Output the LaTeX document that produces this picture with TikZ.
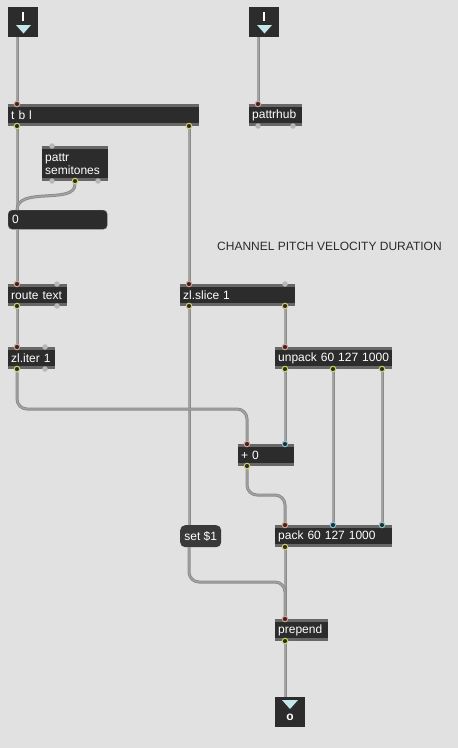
\documentclass[tikz,border=0pt]{standalone}
\usepackage{fontspec}
\setmainfont{Liberation Sans}
\usetikzlibrary{positioning}

\definecolor{patchbg}{HTML}{E1E1E1}
\definecolor{boxdark}{HTML}{2C2C2C}
\definecolor{boxband}{HTML}{676767}
\definecolor{msgdark}{HTML}{393939}
\definecolor{cablegray}{HTML}{A4A4A4}
\definecolor{cableedge}{HTML}{8A8A8A}
\definecolor{hotring}{HTML}{E39A8C}
\definecolor{coldring}{HTML}{7FC6D6}
\definecolor{outring}{HTML}{CFCF66}
\definecolor{idleport}{HTML}{B8B8B8}
\definecolor{arrowtri}{HTML}{C4E6EA}
\definecolor{commenttext}{HTML}{2A2A2A}

\begin{document}
\begin{tikzpicture}[x=1pt,y=-1pt,font=\fontsize{12}{13}\selectfont,
  obj box/.style={fill=boxdark,text=white,anchor=north west,inner xsep=3pt,inner ysep=0pt,
    minimum height=22pt,align=left,
    path picture={
      \fill[boxband] (path picture bounding box.north west) rectangle ([yshift=-3pt]path picture bounding box.north east);
      \fill[boxband] (path picture bounding box.south west) rectangle ([yshift=3pt]path picture bounding box.south east);}},
  num box/.style={fill=boxdark,draw=boxband!70!boxdark,rounded corners=4pt,text=white,anchor=north west,
    inner xsep=4pt,inner ysep=0pt,minimum height=19pt,align=left},
  msg box/.style={fill=msgdark,rounded corners=5pt,text=white,anchor=north west,inner xsep=2pt,
    inner ysep=0pt,minimum height=22pt,minimum width=41pt},
  io box/.style={fill=boxdark,anchor=north west,minimum size=30pt,inner sep=0pt},
  cable/.style={draw=cableedge,line width=0.9pt,double=cablegray,double distance=1.2pt},
  hot port/.style={circle,inner sep=0pt,minimum size=5.5pt,draw=hotring,line width=1pt,fill=boxdark},
  cold port/.style={hot port,draw=coldring},
  out port/.style={hot port,draw=outring},
  idle port/.style={circle,inner sep=0pt,minimum size=5.5pt,fill=idleport}]

  % patcher background
  \fill[patchbg] (0,0) rectangle (458,748);

  % inlets
  \node[io box] (inA) at (8,7) {};
  \fill[white] (22,12) rectangle (24,21);
  \fill[arrowtri] (16,25) -- (31,25) -- (23.5,33.5) -- cycle;
  \coordinate (inA-out) at (17,37);

  \node[io box] (inB) at (249,7) {};
  \fill[white] (263,12) rectangle (265,21);
  \fill[arrowtri] (257,25) -- (272,25) -- (264.5,33.5) -- cycle;
  \coordinate (inB-out) at (258,37);

  % objects
  \node[obj box,text width=185pt] (tbl) at (8,104) {t b l};
  \node[obj box,text width=47pt] (hub) at (249,104) {pattrhub};
  \node[obj box,text width=60pt,minimum height=35pt] (pattr) at (42,146) {pattr\\semitones};
  \node[num box,text width=91pt] (num) at (8,210) {0};
  \node[obj box,text width=53pt] (route) at (8,284) {route text};
  \node[obj box,text width=109pt] (slice) at (180,284) {zl.slice 1};
  \node[obj box,text width=41pt] (iter) at (8,347) {zl.iter 1};
  \node[obj box,text width=111pt] (unpack) at (275,347) {unpack 60 127 1000};
  \node[obj box,text width=50pt] (plus) at (238,444) {+ 0};
  \node[msg box] (msg) at (180,525) {set \$1};
  \node[obj box,text width=111pt] (pack) at (275,525) {pack 60 127 1000};
  \node[obj box,text width=47pt] (prepend) at (275,619) {prepend};

  \node[anchor=west,text=commenttext,inner sep=0pt] (comment) at (217,246) {CHANNEL PITCH VELOCITY DURATION};

  % outlet
  \node[io box] (outA) at (275,697) {};
  \fill[arrowtri] (282,700) -- (298,700) -- (290,709) -- cycle;
  \node[text=white,inner sep=0pt,font=\fontsize{12}{13}\selectfont\bfseries] (outA-o) at (290,717) {o};
  \coordinate (outA-in) at (285,697);

  % ports
  \node[hot port] (tbl-in1) at (17,104) {};
  \node[out port] (tbl-out1) at (17,126) {};
  \node[out port] (tbl-out2) at (189,126) {};
  \node[hot port] (hub-in1) at (258,104) {};
  \node[idle port] (hub-out1) at (258,126) {};
  \node[idle port] (hub-out2) at (293,126) {};
  \node[idle port] (pattr-in1) at (52,146) {};
  \node[idle port] (pattr-out1) at (52,181) {};
  \node[out port] (pattr-out2) at (75,181) {};
  \node[idle port] (pattr-out3) at (98,181) {};
  \coordinate (num-in) at (17,210);
  \coordinate (num-out) at (17,229);
  \node[hot port] (route-in1) at (17,284) {};
  \node[idle port] (route-in2) at (57,284) {};
  \node[out port] (route-out1) at (17,306) {};
  \node[idle port] (route-out2) at (57,306) {};
  \node[hot port] (slice-in1) at (189,284) {};
  \node[idle port] (slice-in2) at (285,284) {};
  \node[out port] (slice-out1) at (189,306) {};
  \node[out port] (slice-out2) at (285,306) {};
  \node[hot port] (iter-in1) at (17,347) {};
  \node[idle port] (iter-in2) at (45,347) {};
  \node[out port] (iter-out1) at (17,369) {};
  \node[idle port] (iter-out2) at (45,369) {};
  \node[hot port] (unpack-in1) at (285,347) {};
  \node[out port] (unpack-out1) at (285,369) {};
  \node[out port] (unpack-out2) at (333,369) {};
  \node[out port] (unpack-out3) at (382,369) {};
  \node[hot port] (plus-in1) at (247,444) {};
  \node[cold port] (plus-in2) at (285,444) {};
  \node[out port] (plus-out1) at (247,466) {};
  \coordinate (msg-in) at (189,525);
  \coordinate (msg-out) at (189,547);
  \node[hot port] (pack-in1) at (285,525) {};
  \node[cold port] (pack-in2) at (333,525) {};
  \node[cold port] (pack-in3) at (382,525) {};
  \node[out port] (pack-out1) at (285,547) {};
  \node[hot port] (prepend-in1) at (285,619) {};
  \node[out port] (prepend-out1) at (285,641) {};

  % patch cords
  \draw[cable]
    (inA-out) -- (tbl-in1)
    (inB-out) -- (hub-in1)
    (tbl-out1) -- (num-in)
    (tbl-out2) -- (slice-in1)
    (num-out) -- (route-in1)
    (route-out1) -- (iter-in1)
    (slice-out2) -- (unpack-in1)
    (slice-out1) -- (msg-in)
    (unpack-out1) -- (plus-in2)
    (unpack-out2) -- (pack-in2)
    (unpack-out3) -- (pack-in3)
    (pack-out1) -- (prepend-in1)
    (prepend-out1) -- (outA-in)
    ;
  \draw[cable] (pattr-out2) .. controls +(0,24) and +(0,-24) .. (num-in);
  \draw[cable,rounded corners=10pt] (iter-out1) -- ++(0,40) -| (plus-in1);
  \draw[cable,rounded corners=10pt] (plus-out1) -- ++(0,29) -| (pack-in1);
  \draw[cable,rounded corners=10pt] (msg-out) -- ++(0,35) -| (prepend-in1);

\end{tikzpicture}
\end{document}
